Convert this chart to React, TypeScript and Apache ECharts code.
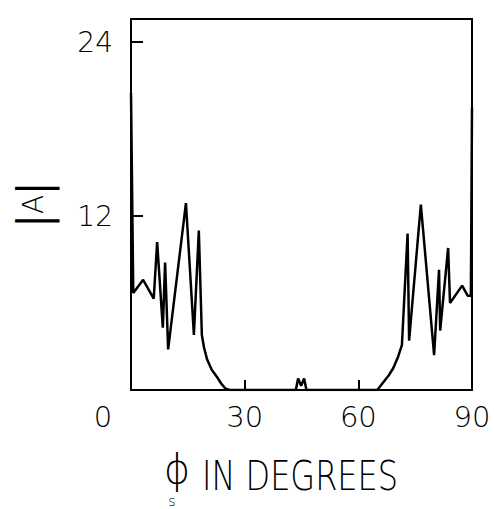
import React, { useEffect, useRef } from "react";
import * as echarts from "echarts";

const phi: number[] = [
  0, 0.6, 3.2, 6.0, 6.9, 8.4, 9.0, 9.8, 14.5, 16.6, 17.9, 18.7, 19.3, 20.1,
  21.3, 22.7, 23.8, 24.9, 26, 43.5, 44.1, 44.9, 45.7, 46.3, 65.0, 66.5, 68.0,
  69.2, 70.5, 71.5, 73.0, 73.4, 76.5, 80.0, 81.3, 81.6, 83.7, 84.2, 87.4, 88.9,
  89.7, 90,
];
const amp: number[] = [
  20.5, 6.7, 7.6, 6.3, 10.2, 4.3, 8.8, 2.8, 12.9, 3.8, 11.0, 3.8, 2.9, 2.1,
  1.4, 0.9, 0.45, 0.1, 0, 0, 0.8, 0.3, 0.8, 0, 0, 0.5, 1.0, 1.5, 2.3, 3.1, 10.8,
  3.4, 12.8, 2.4, 8.3, 4.1, 9.8, 6.0, 7.2, 6.5, 6.5, 19.5,
];
const xTicks: number[] = [0, 30, 60, 90];
const yTicks: number[] = [0, 12, 24];

const FONT = "DejaVu Sans";

export default function App() {
  const ref = useRef<HTMLDivElement>(null);
  useEffect(() => {
    if (!ref.current) return;
    const chart = echarts.init(ref.current, undefined, { renderer: "svg" });
    const data = phi.map((p, i) => [p, amp[i]]);
    chart.setOption({
      animation: false,
      backgroundColor: "#ffffff",
      grid: {
        left: 131,
        right: 22,
        top: 19,
        bottom: 119,
        show: true,
        borderColor: "#000",
        borderWidth: 2,
        backgroundColor: "transparent",
      },
      xAxis: {
        type: "value",
        min: 0,
        max: 90,
        interval: 30,
        axisLine: { show: true, lineStyle: { color: "#000", width: 2 } },
        axisTick: {
          show: true,
          inside: true,
          length: 10,
          lineStyle: { color: "#000", width: 2 },
        },
        splitLine: { show: false },
        axisLabel: {
          margin: 12,
          color: "#000",
          fontFamily: FONT,
          fontWeight: 200,
          fontSize: 29,
          formatter: (v: number) =>
            xTicks.includes(v) ? (v === 0 ? "{z|0}" : String(v)) : "",
          rich: {
            z: {
              fontFamily: FONT,
              fontWeight: 200,
              fontSize: 29,
              color: "#000",
              padding: [0, 56, 0, 0],
            },
          },
        },
      },
      yAxis: {
        type: "value",
        min: 0,
        max: 25.6,
        interval: 12,
        axisLine: { show: true, lineStyle: { color: "#000", width: 2 } },
        axisTick: {
          show: true,
          inside: true,
          length: 12,
          lineStyle: { color: "#000", width: 2 },
        },
        splitLine: { show: false },
        axisLabel: {
          margin: 18,
          color: "#000",
          fontFamily: FONT,
          fontWeight: 200,
          fontSize: 28,
          formatter: (v: number) =>
            yTicks.includes(v) && v !== 0 ? String(v) : "",
        },
        name: "{b||}{a|A}{b||}",
        nameLocation: "middle",
        nameRotate: 90,
        nameGap: 76,
        nameTextStyle: {
          color: "#000",
          rich: {
            b: {
              fontFamily: "Liberation Sans Narrow, DejaVu Sans Condensed",
              fontSize: 44,
              color: "#000",
            },
            a: {
              fontFamily: FONT,
              fontWeight: 200,
              fontSize: 28,
              color: "#000",
            },
          },
        },
      },
      graphic: [
        {
          type: "text",
          x: 177,
          y: 469,
          style: {
            text: "ϕ",
            fontFamily: FONT,
            fontWeight: 200,
            fontSize: 40,
            fill: "#000",
            align: "center",
            verticalAlign: "middle",
          },
        },
        {
          type: "text",
          x: 172,
          y: 501,
          style: {
            text: "s",
            fontFamily: FONT,
            fontWeight: 200,
            fontSize: 14,
            fill: "#000",
            align: "center",
            verticalAlign: "middle",
          },
        },
        {
          type: "text",
          x: 202,
          y: 476,
          scaleY: 1.26,
          style: {
            text: "IN DEGREES",
            fontFamily: FONT,
            fontWeight: 200,
            fontSize: 32,
            fill: "#000",
            align: "left",
            verticalAlign: "middle",
          },
        },
      ],
      series: [
        {
          type: "line",
          data,
          symbol: "none",
          lineStyle: { color: "#000", width: 2.5 },
          clip: true,
        },
      ],
    });
    return () => chart.dispose();
  }, []);
  return (
    <div
      ref={ref}
      style={{ position: "fixed", left: 0, top: 0, width: 494, height: 509 }}
    />
  );
}
